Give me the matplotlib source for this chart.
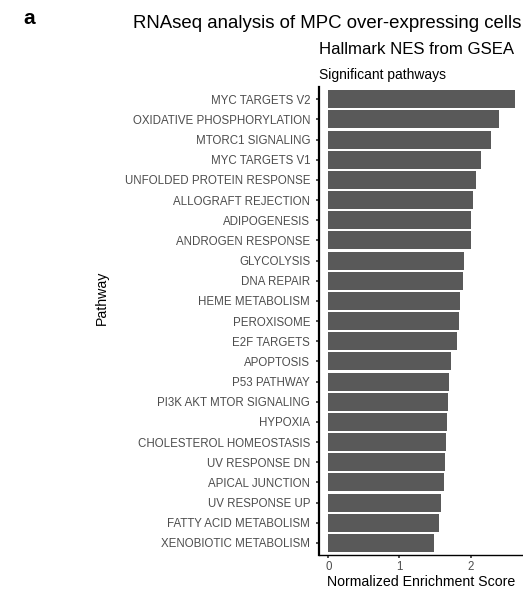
import matplotlib.pyplot as plt
import numpy as np

plt.rcParams["font.family"] = ["Liberation Sans", "DejaVu Sans"]

# hallmark pathways, top to bottom
pathways = [
    "MYC TARGETS V2", "OXIDATIVE PHOSPHORYLATION", "MTORC1 SIGNALING",
    "MYC TARGETS V1", "UNFOLDED PROTEIN RESPONSE", "ALLOGRAFT REJECTION",
    "ADIPOGENESIS", "ANDROGEN RESPONSE", "GLYCOLYSIS", "DNA REPAIR",
    "HEME METABOLISM", "PEROXISOME", "E2F TARGETS", "APOPTOSIS",
    "P53 PATHWAY", "PI3K AKT MTOR SIGNALING", "HYPOXIA",
    "CHOLESTEROL HOMEOSTASIS", "UV RESPONSE DN", "APICAL JUNCTION",
    "UV RESPONSE UP", "FATTY ACID METABOLISM", "XENOBIOTIC METABOLISM",
]
nes = [
    2.62, 2.40, 2.28, 2.14, 2.07, 2.03, 2.00, 2.00, 1.90, 1.89,
    1.85, 1.83, 1.81, 1.73, 1.70, 1.68, 1.67, 1.66, 1.64, 1.62,
    1.59, 1.56, 1.48,
]
xticks = [0, 1, 2]

fig = plt.figure(figsize=(5.23, 5.90), dpi=100)
ax = fig.add_axes([0.610, 0.0593, 0.392, 0.793])

y = np.arange(len(pathways))[::-1]
ax.barh(y, nes, height=0.9, color="#595959")

ax.set_ylim(-0.6, len(pathways) - 0.4)
xmax = max(nes)
ax.set_xlim(-0.05 * xmax, 1.05 * xmax)

ax.set_yticks(y)
ax.set_yticklabels(pathways, fontsize=8.3, color="#4d4d4d")
ax.set_xticks(xticks)
ax.set_xticklabels([str(t) for t in xticks], fontsize=8.3, color="#4d4d4d")
ax.tick_params(axis="y", length=2.5, width=1.2, color="#333333", pad=4)
ax.tick_params(axis="x", length=2.5, width=1.2, color="#333333", pad=2)

for s in ["top", "right"]:
    ax.spines[s].set_visible(False)
ax.spines["left"].set_linewidth(1.6)
ax.spines["bottom"].set_linewidth(1.0)

ax.set_xlabel("Normalized Enrichment Score", fontsize=10.2, labelpad=1)
fig.text(102 / 523, 1 - 298 / 590, "Pathway", rotation=90, fontsize=10.2,
         ha="center", va="center")

fig.text(23 / 523, 1 - 18 / 590, "a", fontsize=15, fontweight="bold",
         ha="left", va="center")
fig.text(133 / 523, 1 - 24 / 590, "RNAseq analysis of MPC over-expressing cells",
         fontsize=13.4, ha="left", va="center")
fig.text(319 / 523, 1 - 50 / 590, "Hallmark NES from GSEA",
         fontsize=12.1, ha="left", va="center")
fig.text(319 / 523, 1 - 75 / 590, "Significant pathways",
         fontsize=10, ha="left", va="center")

fig.savefig("out.png", dpi=100)
